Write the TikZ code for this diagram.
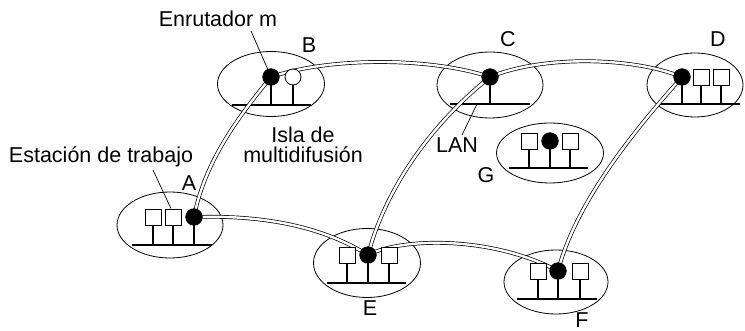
\documentclass[tikz,border=0pt]{standalone}
\usepackage{fontspec}
\setmainfont{Liberation Sans}
\usetikzlibrary{shapes.geometric}
\pgfdeclarelayer{back}
\pgfdeclarelayer{tubes}
\pgfsetlayers{back,tubes,main}
\begin{document}
\begin{tikzpicture}[x=1pt,y=-1pt,
  island/.style={ellipse, draw, line width=0.8pt, inner sep=0pt},
  router/.style={circle, draw, fill=black, line width=0.8pt, inner sep=0pt, minimum size=16.5pt},
  openrouter/.style={circle, draw, fill=white, line width=0.8pt, inner sep=0pt, minimum size=16pt},
  station/.style={rectangle, draw, fill=white, line width=0.8pt, inner sep=0pt, minimum size=16pt},
  tube/.style={draw, double=white, double distance=2.4pt, line width=0.7pt},
  bus/.style={line width=1.8pt},
  stem/.style={line width=1.2pt},
  pointer/.style={line width=0.7pt},
  lbl/.style={font=\fontsize{21.5}{24}\selectfont, inner sep=0pt, anchor=base}
]
\useasboundingbox (0,0) rectangle (745,331);

% islands
\begin{pgfonlayer}{back}
\node[island, minimum width=106pt, minimum height=66pt] (eA) at (170,225) {};
\node[island, minimum width=107pt, minimum height=65pt] (eB) at (271,84) {};
\node[island, minimum width=106pt, minimum height=66pt] (eC) at (490,85) {};
\node[island, minimum width=96pt, minimum height=64pt] (eD) at (695,85) {};
\node[island, minimum width=107pt, minimum height=69pt] (eE) at (367,263) {};
\node[island, minimum width=104pt, minimum height=64pt] (eF) at (556,282) {};
\node[island, minimum width=107pt, minimum height=60pt] (eG) at (550,153) {};
\end{pgfonlayer}

% routers and stations
\node[router] (rA) at (194,217) {};
\node[router] (rB) at (271,77) {};
\node[openrouter] (oB) at (293,77) {};
\node[router] (rC) at (490,77) {};
\node[router] (rD) at (682,77) {};
\node[router] (rE) at (368,255) {};
\node[router] (rF) at (558,271) {};
\node[router] (rG) at (550,141) {};
\node[station] (sA1) at (153,217) {};
\node[station] (sA2) at (173,217) {};
\node[station] (sD1) at (701,77) {};
\node[station] (sD2) at (721,77) {};
\node[station] (sE1) at (347,255) {};
\node[station] (sE2) at (389,255) {};
\node[station] (sF1) at (538,271) {};
\node[station] (sF2) at (580,271) {};
\node[station] (sG1) at (529,141) {};
\node[station] (sG2) at (570,141) {};

% bus coordinates
\coordinate (bA1) at (132,245); \coordinate (bA2) at (212,245);
\coordinate (bB1) at (232,105); \coordinate (bB2) at (311,105);
\coordinate (bC1) at (450,104); \coordinate (bC2) at (530,104);
\coordinate (bD1) at (658,104); \coordinate (bD2) at (740,104);
\coordinate (bE1) at (327,283); \coordinate (bE2) at (406,283);
\coordinate (bF1) at (517,299); \coordinate (bF2) at (597,299);
\coordinate (bG1) at (509,168); \coordinate (bG2) at (588,168);

\begin{pgfonlayer}{back}
\foreach \b in {A,B,C,D,E,F,G} \draw[bus] (b\b1) -- (b\b2);
\foreach \n/\b in {sA1/A,sA2/A,rA/A,rB/B,oB/B,rC/C,rD/D,sD1/D,sD2/D,
                   sE1/E,rE/E,sE2/E,sF1/F,rF/F,sF2/F,sG1/G,rG/G,sG2/G}
  \draw[stem] (\n.center) -- (\n |- b\b1);
\end{pgfonlayer}

% multicast tunnels
\begin{pgfonlayer}{tubes}
\draw[tube] (rB.center) .. controls (240,115) and (205,160) .. (rA.center);
\draw[tube] (rB.center) .. controls (330,57) and (430,57) .. (rC.center);
\draw[tube] (rC.center) .. controls (540,56) and (630,56) .. (rD.center);
\draw[tube] (rC.center) .. controls (430,125) and (385,190) .. (rE.center);
\draw[tube] (rD.center) .. controls (630,135) and (575,205) .. (rF.center);
\draw[tube] (rA.center) .. controls (260,215) and (320,225) .. (rE.center);
\draw[tube] (rE.center) .. controls (400,238) and (490,235) .. (rF.center);
\end{pgfonlayer}

% labels
\node[lbl] (tEnr) at (218,27) {Enrutador m};
\node[lbl] (tEst) at (101,163) {Estación de trabajo};
\node[lbl] (lA) at (189,190.5) {A};
\node[lbl] (lB) at (309,53) {B};
\node[lbl] (lC) at (508,47) {C};
\node[lbl] (lD) at (718,47) {D};
\node[lbl] (lE) at (370,316) {E};
\node[lbl] (lF) at (582,327) {F};
\node[lbl] (lG) at (486,183) {G};
\node[lbl] (tLAN) at (457,153) {LAN};
\node[lbl] (tIsla1) at (303,143) {Isla de};
\node[lbl] (tIsla2) at (303,163) {multidifusión};

% pointers
\coordinate (pEnr) at (251,31);
\coordinate (pEst) at (153,170);
\coordinate (pLAN) at (462,135);
\coordinate (cLAN) at (477,104);
\draw[pointer] (pEnr) -- (rB.113);
\draw[pointer] (pEst) -- ([xshift=-2pt]sA2.north);
\draw[pointer] (pLAN) -- (cLAN);
\end{tikzpicture}
\end{document}
